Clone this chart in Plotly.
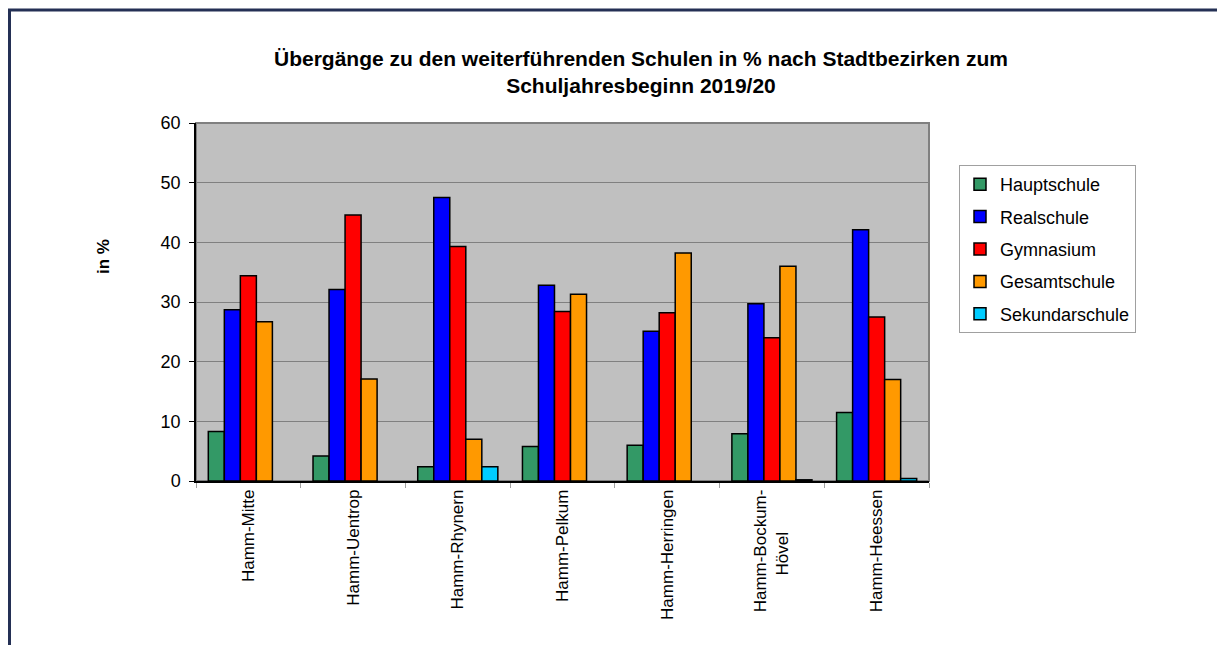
import plotly.graph_objects as go

categories = ["Hamm-Mitte", "Hamm-Uentrop", "Hamm-Rhynern", "Hamm-Pelkum",
              "Hamm-Herringen", "Hamm-Bockum-<br>Hövel" + "\u00a0" * 9, "Hamm-Heessen"]
hauptschule = [8.3, 4.2, 2.4, 5.8, 6.0, 7.9, 11.5]
realschule = [28.7, 32.1, 47.5, 32.8, 25.1, 29.7, 42.1]
gymnasium = [34.4, 44.6, 39.3, 28.4, 28.2, 24.0, 27.5]
gesamtschule = [26.7, 17.1, 7.0, 31.3, 38.2, 36.0, 17.0]
sekundarschule = [None, None, 2.4, None, None, 0.2, 0.4]

series = [
    ("Hauptschule", hauptschule, "#339966"),
    ("Realschule", realschule, "#0000ff"),
    ("Gymnasium", gymnasium, "#ff0000"),
    ("Gesamtschule", gesamtschule, "#ff9900"),
    ("Sekundarschule", sekundarschule, "#00ccff"),
]

FONT = "Liberation Sans, Arial, sans-serif"

fig = go.Figure()
for name, vals, col in series:
    fig.add_trace(go.Bar(
        x=categories, y=vals, name=name, legendgroup=name,
        marker=dict(color=col, line=dict(color="black", width=1.5)),
    ))

OFF = 8  # page body margin
W, H = 1225, 645
L, T = 196 - OFF, 123 - OFF
R = W - (929 - OFF)
B = H - (481 - OFF)
pw = W - L - R
ph = H - T - B

def px_x(x):
    return (x - OFF - L) / pw

def px_y(y):
    return (H - B - (y - OFF)) / ph

fig.update_layout(
    width=W, height=H,
    margin=dict(l=L, r=R, t=T, b=B),
    paper_bgcolor="white",
    plot_bgcolor="#c0c0c0",
    barmode="group", bargap=0.235, bargroupgap=0,
    font=dict(family=FONT, color="black"),
    title=dict(
        text="Übergänge zu den weiterführenden Schulen in % nach Stadtbezirken zum<br>Schuljahresbeginn 2019/20",
        font=dict(family=FONT, size=21, color="black", weight="bold"),
        x=px_x(641), xanchor="center", xref="paper",
        y=1 - (66 - OFF) / H, yanchor="top",
    ),
    legend=dict(
        x=px_x(959), y=px_y(165), xanchor="left", yanchor="top",
        bordercolor="#a0a0a0", borderwidth=1, bgcolor="white",
        font=dict(family=FONT, size=18, color="black"),
        traceorder="grouped", tracegroupgap=6, itemwidth=30,
    ),
    xaxis=dict(
        type="category", tickangle=-90,
        tickfont=dict(family=FONT, size=17, color="black"),
        showline=True, linecolor="black", linewidth=1.5,
        ticks="outside", tickson="boundaries", ticklen=5, tickcolor="#a0a0a0",
        showgrid=False, zeroline=False,
    ),
    yaxis=dict(
        range=[0, 60], dtick=10,
        tickfont=dict(family=FONT, size=18, color="black"),
        showline=True, linecolor="black", linewidth=1.5,
        ticks="outside", ticklen=5, tickcolor="black",
        ticklabelstandoff=5,
        showgrid=True, gridcolor="#808080", gridwidth=1,
        zeroline=False,
    ),
    annotations=[
        dict(text="<b>in %</b>", textangle=-90, showarrow=False,
             xref="paper", yref="paper", x=px_x(103), y=px_y(257),
             xanchor="center", yanchor="middle",
             font=dict(family=FONT, size=17, color="black")),
    ],
    shapes=[
        dict(type="rect", xref="paper", yref="paper", x0=0, x1=1, y0=0, y1=1,
             line=dict(color="#808080", width=2), layer="below"),
        dict(type="rect", xref="paper", yref="paper",
             x0=px_x(9.5), x1=px_x(1260), y0=px_y(10), y1=px_y(700),
             line=dict(color="#243055", width=3), layer="above"),
    ],
)

fig.write_html("out.html")
